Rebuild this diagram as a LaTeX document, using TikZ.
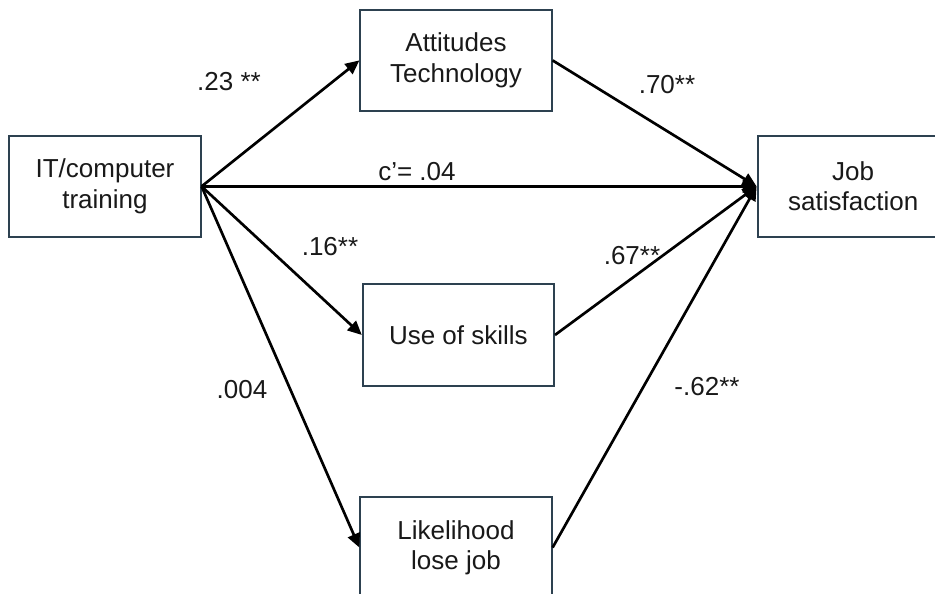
\documentclass[tikz,border=0pt]{standalone}
\usepackage{fontspec}
\setmainfont{Liberation Sans}
\usepackage{tikz}
\usetikzlibrary{arrows.meta, positioning}
\definecolor{myframe}{RGB}{45,65,80}
\definecolor{mytext}{RGB}{25,25,25}
\tikzset{
  box/.style={rectangle, draw=myframe, fill=white,
    minimum width=4.78cm, minimum height=2.53cm, align=center,
    text=mytext, font=\fontsize{18.5}{21.5}\selectfont, line width=1.4pt},
  coef/.style={font=\fontsize{18.5}{21.5}\selectfont, text=mytext, inner sep=0pt},
  arrow/.style={-{Triangle[length=10pt, width=9pt]}, line width=1.9pt, color=black}
}

\begin{document}
\begin{tikzpicture}
  \clip (0, 0) rectangle (23.375, 14.85);

  % Boxes
  \node[box] (train) at (2.625, 10.19) {IT/computer\\training};
  \node[box] (jobsat) at (21.33, 10.19) {Job\\satisfaction};
  \node[box] (attit) at (11.4, 13.34) {Attitudes\\Technology};
  \node[box] (skills) at (11.46, 6.475) {Use of skills};
  \node[box] (lose) at (11.4, 1.16) {Likelihood\\lose job};

  % Paths
  \draw[arrow] (train.east) -- (attit.west);
  \draw[arrow] (train.east) -- (jobsat.west);
  \draw[arrow] (train.east) -- (skills.west);
  \draw[arrow] (train.east) -- (lose.west);
  \draw[arrow] (attit.east) -- (jobsat.west);
  \draw[arrow] (skills.east) -- (jobsat.west);
  \draw[arrow] (lose.east) -- (jobsat.west);

  % Coefficients
  \node[coef] (a1) at (5.725, 12.8) {.23 **};
  \node[coef] (cp) at (10.425, 10.56) {c'= .04};
  \node[coef] (a2) at (8.25, 8.68) {.16**};
  \node[coef] (a3) at (6.05, 5.1) {.004};
  \node[coef] (b1) at (16.675, 12.73) {.70**};
  \node[coef] (b2) at (15.8, 8.45) {.67**};
  \node[coef] (b3) at (17.675, 5.18) {-.62**};
\end{tikzpicture}
\end{document}
